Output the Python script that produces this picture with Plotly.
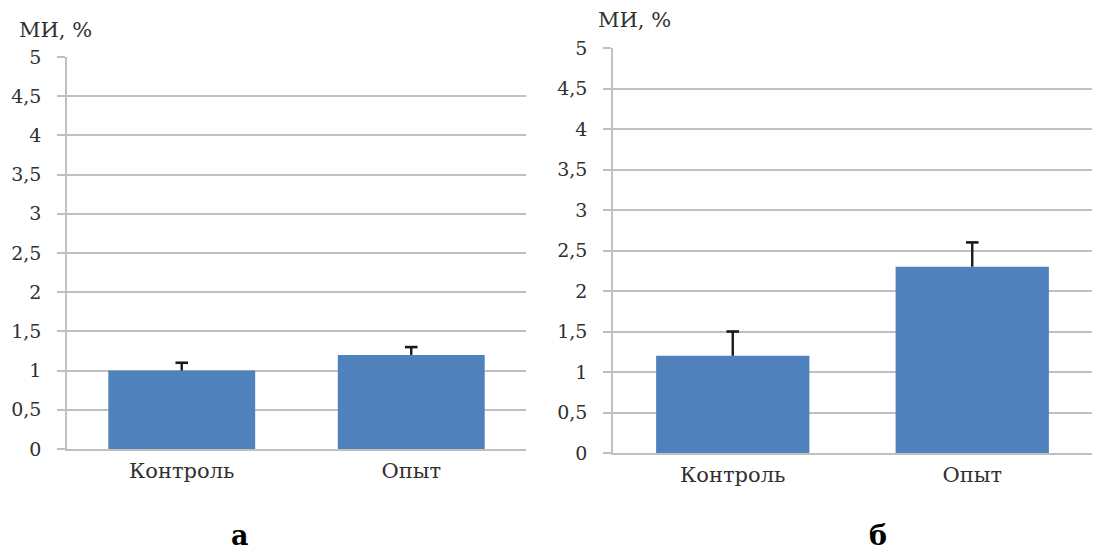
import plotly.graph_objects as go

categories = ["Контроль", "Опыт"]
values_a = [1.0, 1.2]
errors_a = [0.1, 0.1]
values_b = [1.2, 2.3]
errors_b = [0.3, 0.3]
y_ticks = [0, 0.5, 1, 1.5, 2, 2.5, 3, 3.5, 4, 4.5, 5]
y_tick_labels = ["0", "0,5", "1", "1,5", "2", "2,5", "3", "3,5", "4", "4,5", "5"]
y_title = "МИ, %"
panel_labels = ["а", "б"]

BAR = "#4f81bd"
GRID = "#c0c0c0"
FONT = "DejaVu Serif"
TXT = "#303030"
W, H = 1102, 553
OFF = 8  # page body margin

fig = go.Figure()
for i, (vals, errs) in enumerate([(values_a, errors_a), (values_b, errors_b)]):
    xa = "x" if i == 0 else "x2"
    ya = "y" if i == 0 else "y2"
    fig.add_trace(go.Bar(
        x=categories, y=vals, xaxis=xa, yaxis=ya,
        marker=dict(color=BAR, line=dict(width=0)),
        showlegend=False, hoverinfo="skip",
    ))
    # upper error whiskers (no lower cap), built from the data
    lx, ly = [], []
    for c, v, e in zip(categories, vals, errs):
        lx += [c, c, None]
        ly += [v, v + e, None]
    fig.add_trace(go.Scatter(
        x=lx, y=ly, xaxis=xa, yaxis=ya, mode="lines",
        line=dict(color="#1a1a1a", width=2.4), showlegend=False, hoverinfo="skip",
    ))
    fig.add_trace(go.Scatter(
        x=categories, y=[v + e for v, e in zip(vals, errs)], xaxis=xa, yaxis=ya,
        mode="markers", marker=dict(symbol="line-ew", size=9, line=dict(color="#1a1a1a", width=2.6)),
        showlegend=False, hoverinfo="skip",
    ))

def px_x(p):
    return (p - OFF) / W

def px_y(p):
    return 1 - (p - OFF) / H

yax = dict(
    range=[0, 5], tickvals=y_ticks, ticktext=y_tick_labels,
    showgrid=True, gridcolor=GRID, gridwidth=1.7,
    showline=True, linecolor=GRID, linewidth=1.7,
    ticks="outside", ticklen=8, tickcolor=GRID, tickwidth=1.7,
    zeroline=False, fixedrange=True, automargin=False,
    tickfont=dict(family=FONT, size=19, color=TXT),
    ticklabelstandoff=12,
)
xax = dict(
    showline=True, linecolor=GRID, linewidth=1.7, showgrid=False, ticks="",
    tickfont=dict(family=FONT, size=21, color=TXT), fixedrange=True,
    automargin=False, ticklabelstandoff=2,
)

fig.update_layout(
    width=W, height=H, margin=dict(l=0, r=0, t=0, b=0, autoexpand=False),
    paper_bgcolor="white", plot_bgcolor="white",
    bargap=0.36,
    xaxis=dict(domain=[px_x(67), px_x(526)], anchor="y", **xax),
    yaxis=dict(domain=[px_y(449), px_y(57)], anchor="x", **yax),
    xaxis2=dict(domain=[px_x(613), px_x(1092)], anchor="y2", **xax),
    yaxis2=dict(domain=[px_y(453), px_y(48)], anchor="x2", **yax),
)

for xp, yp in [(17, 30), (596, 20)]:
    fig.add_annotation(text=y_title, x=px_x(xp), y=px_y(yp), xref="paper", yref="paper",
                       showarrow=False, xanchor="left", yanchor="middle",
                       font=dict(family=FONT, size=21, color=TXT))
for lbl, xp in zip(panel_labels, [240, 878]):
    fig.add_annotation(text="<b>%s</b>" % lbl, x=px_x(xp), y=px_y(535), xref="paper", yref="paper",
                       xanchor="center", yanchor="middle", showarrow=False,
                       font=dict(family=FONT, size=27, color="black"))

fig.write_html("out.html")
